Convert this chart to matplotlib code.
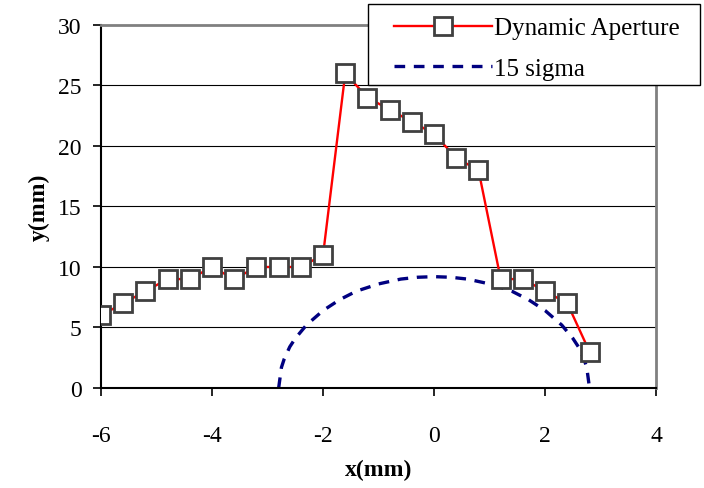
import matplotlib
matplotlib.use("Agg")
import matplotlib.pyplot as plt
from matplotlib.patches import Rectangle

# dynamic aperture scan
da_x = [-6.0, -5.6, -5.2, -4.8, -4.4, -4.0, -3.6, -3.2, -2.8, -2.4, -2.0, -1.6,
        -1.2, -0.8, -0.4, 0.0, 0.4, 0.8, 1.2, 1.6, 2.0, 2.4, 2.8]
da_y = [6, 7, 8, 9, 9, 10, 9, 10, 10, 10, 11, 26,
        24, 23, 22, 21, 19, 18, 9, 9, 8, 7, 3]

# 15 sigma beam envelope
sig_x = [-2.8, -2.75, -2.7, -2.6, -2.5, -2.3, -2.0, -1.7, -1.4, -1.0, -0.6, -0.3, 0.0,
         0.3, 0.6, 1.0, 1.4, 1.7, 2.0, 2.3, 2.5, 2.6, 2.7, 2.75, 2.8]
sig_y = [0.0, 1.7, 2.4, 3.4, 4.1, 5.2, 6.4, 7.3, 8.0, 8.6, 9.0, 9.15, 9.2,
         9.15, 9.0, 8.6, 8.0, 7.3, 6.4, 5.2, 4.1, 3.4, 2.4, 1.7, 0.0]

plt.rcParams["font.family"] = ["Liberation Serif", "DejaVu Serif"]
plt.rcParams["axes.unicode_minus"] = False

W, H = 704, 489
fig = plt.figure(figsize=(W / 100, H / 100), dpi=100)
ax = fig.add_axes([0.1435, 0.2045, 0.7885, 0.7425])

for y in [5, 10, 15, 20, 25]:
    ax.axhline(y, color="black", linewidth=0.8, zorder=0)

ax.plot(sig_x, sig_y, color="#000080", linewidth=2.4, linestyle=(0, (3.2, 2.6)),
        label="15 sigma", zorder=2)
ax.plot(da_x, da_y, color="red", linewidth=1.7, marker="s", markersize=12.5,
        markerfacecolor="white", markeredgecolor="#404040", markeredgewidth=2.0,
        label="Dynamic Aperture", zorder=3)

ax.set_xlim(-6, 4)
ax.set_ylim(0, 30)
ax.set_xticks([-6, -4, -2, 0, 2, 4])
ax.set_yticks([0, 5, 10, 15, 20, 25, 30])
ax.tick_params(direction="out", length=6, width=1.2, labelsize=17)
ax.tick_params(axis="x", pad=21)
ax.tick_params(axis="y", pad=8)
ax.set_xlabel("x(mm)", fontsize=17, fontweight="bold", labelpad=9)
ax.set_ylabel("y(mm)", fontsize=17, fontweight="bold", labelpad=6)

ax.spines["left"].set_linewidth(1.5)
ax.spines["bottom"].set_linewidth(1.5)
ax.spines["top"].set_color("#808080")
ax.spines["right"].set_color("#808080")
ax.spines["top"].set_linewidth(2)
ax.spines["right"].set_linewidth(2)

# legend box drawn separately so it can stick out past the axes
fig.patches.append(Rectangle((368 / W, 1 - 86 / H), 332 / W, 81 / H,
                             transform=fig.transFigure, facecolor="white",
                             edgecolor="black", linewidth=1.0, zorder=5))

handles, labels = ax.get_legend_handles_labels()
leg = fig.legend(handles[::-1], labels[::-1], loc="upper left",
                 bbox_to_anchor=(394 / W, 1 - 18 / H), fontsize=18, handlelength=3.9,
                 frameon=False, borderpad=0, labelspacing=0.72,
                 handletextpad=0.1, borderaxespad=0)
leg.set_zorder(6)

fig.savefig("out.png", dpi=100)
